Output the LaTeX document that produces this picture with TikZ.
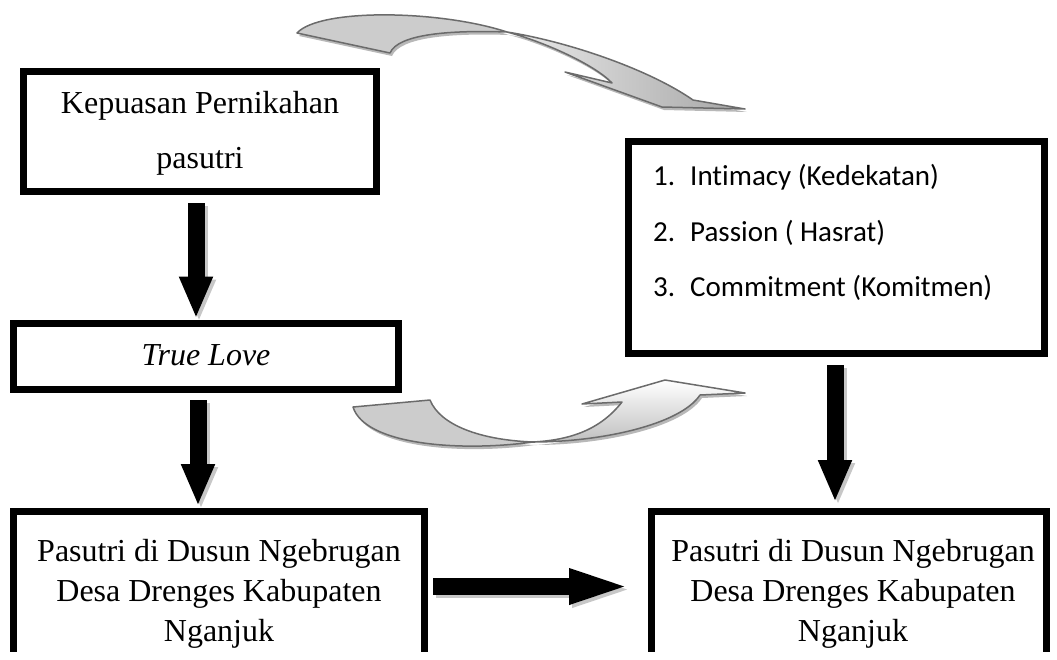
\documentclass[tikz,border=0pt]{standalone}
\usepackage{fontspec}
\setmainfont{Liberation Serif}
\newfontfamily\calibrifont[Ligatures=NoCommon]{Carlito}
\usetikzlibrary{arrows.meta,calc}
\newcommand\TopTail{(297,33) .. controls (320,8) and (440,10) .. (507,32) .. controls (450,30) and (398,34) .. (390,53) -- cycle}
\newcommand\TopHead{(507,32) .. controls (570,42) and (650,70) .. (693,100) -- (745,109) -- (662,107) -- (565,72) -- (612,83) .. controls (595,65) and (545,42) .. (507,32) -- cycle}
\newcommand\BotTail{(353,407) -- (430,400) .. controls (440,425) and (480,440) .. (533,442) .. controls (460,452) and (365,445) .. (353,407) -- cycle}
\newcommand\BotHead{(533,442) .. controls (600,442) and (680,425) .. (700,395) -- (745,393) -- (665,380) -- (582,404) -- (622,402) .. controls (600,430) and (570,440) .. (533,442) -- cycle}
\begin{document}
\begin{tikzpicture}[x=1pt,y=-1pt,
  frame/.style={draw=black, line width=7pt, rectangle, inner sep=0pt, outer sep=0pt, anchor=north west},
  tnr/.style={font=\fontsize{32}{38}\selectfont, inner sep=0pt, anchor=base},
  cal/.style={font=\calibrifont\fontsize{29}{35}\selectfont, inner sep=0pt, anchor=base west},
  blkv/.style={line width=17pt, -{Triangle[width=31pt,length=42pt]}},
  blkh/.style={line width=17pt, -{Triangle[width=30pt,length=68pt]}},
  shadowed/.style={draw=black!22, transform canvas={xshift=3pt,yshift=-3pt}},
  curve/.style={draw=black!58, line width=1.5pt, line join=round},
  cshadow/.style={fill=black!28}
]
\useasboundingbox (0,0) rectangle (1057,659);
\clip (0,0) rectangle (1057,651);

% frames
\node[frame, minimum width=353pt, minimum height=120pt] (kp) at (23.5,71.5) {};
\node[frame, minimum width=385pt, minimum height=66pt] (tl) at (13.5,323.5) {};
\node[frame, minimum width=416pt, minimum height=212pt] (rt) at (628.5,141.5) {};
\node[frame, minimum width=411pt, minimum height=190pt] (bl) at (13.5,511.5) {};
\node[frame, minimum width=395pt, minimum height=190pt] (br) at (651.5,511.5) {};

% texts
\node[tnr] (kp1) at (200,113) {Kepuasan Pernikahan};
\node[tnr] (kp2) at (200,168) {pasutri};
\node[tnr] (tlt) at (206,365) {\itshape True Love};
\node[cal] (n1) at (653,185) {1.};
\node[cal] (i1) at (690,185) {Intimacy (Kedekatan)};
\node[cal] (n2) at (653,241) {2.};
\node[cal] (i2) at (690,241) {Passion ( Hasrat)};
\node[cal] (n3) at (653,296) {3.};
\node[cal] (i3) at (690,296) {Commitment (Komitmen)};
\node[tnr] (bl1) at (219,561) {Pasutri di Dusun Ngebrugan};
\node[tnr] (bl2) at (219,601) {Desa Drenges Kabupaten};
\node[tnr] (bl3) at (219,641) {Nganjuk};
\node[tnr] (br1) at (853,561) {Pasutri di Dusun Ngebrugan};
\node[tnr] (br2) at (853,601) {Desa Drenges Kabupaten};
\node[tnr] (br3) at (853,641) {Nganjuk};

% block arrows (shadows first)
\draw[blkv, shadowed] ($(kp.south)+(-4,11.5)$) -- ($(tl.north)+(-10,-5)$);
\draw[blkv, shadowed] ($(tl.south)+(-8,10.5)$) -- ($(bl.north)+(-21,-5.5)$);
\draw[blkv, shadowed] ($(rt.south)+(-1.5,11.5)$) -- ($(br.north)+(-14,-9.5)$);
\draw[blkh, shadowed] ($(bl.north east)+(8.5,75)$) -- ($(br.north west)+(-14.5,75)$);
\draw[blkv] ($(kp.south)+(-4,11.5)$) -- ($(tl.north)+(-10,-5)$);
\draw[blkv] ($(tl.south)+(-8,10.5)$) -- ($(bl.north)+(-21,-5.5)$);
\draw[blkv] ($(rt.south)+(-1.5,11.5)$) -- ($(br.north)+(-14,-9.5)$);
\draw[blkh] ($(bl.north east)+(8.5,75)$) -- ($(br.north west)+(-14.5,75)$);

% curved arrows
\fill[cshadow, shift={(2,3)}] \TopTail;
\fill[cshadow, shift={(2,3)}] \TopHead;
\fill[cshadow, shift={(2,3)}] \BotTail;
\fill[cshadow, shift={(2,3)}] \BotHead;
\draw[curve, fill=black!20] \TopTail;
\draw[curve, left color=black!8, right color=black!35] \TopHead;
\draw[curve, fill=black!20] \BotTail;
\draw[curve, top color=white, bottom color=black!25] \BotHead;
\end{tikzpicture}
\end{document}
